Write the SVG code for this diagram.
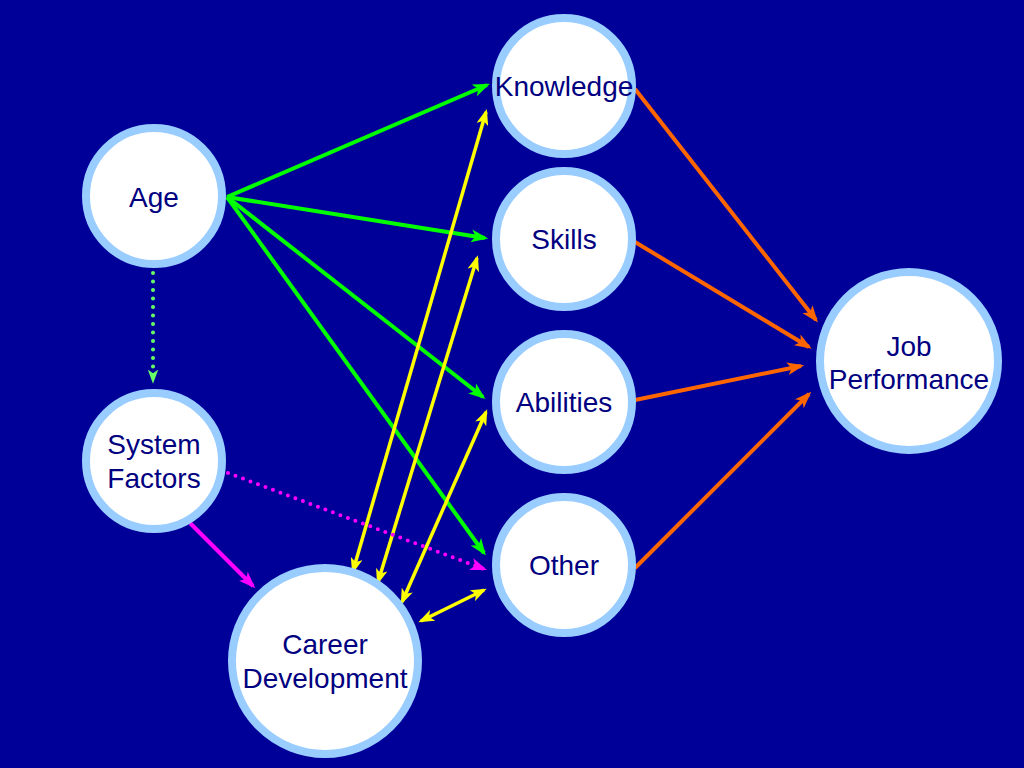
<svg xmlns="http://www.w3.org/2000/svg" width="1024" height="768" viewBox="0 0 1024 768">
<style>
.node circle{fill:#ffffff;stroke:#99ccff;stroke-width:8}
.node text{font-family:"Liberation Sans",Arial,sans-serif;font-size:28px;fill:#000080;text-anchor:middle}
.g{stroke:#00ff00;stroke-width:4;fill:none}
.y{stroke:#ffff00;stroke-width:3.5;fill:none}
.o{stroke:#ff6600;stroke-width:4;fill:none}
.m{stroke:#ff00ff;stroke-width:4;fill:none}
.gd{stroke:#66ff66;stroke-width:4;fill:none;stroke-dasharray:0 8.5;stroke-linecap:round}
.md{stroke:#ff00ff;stroke-width:4;fill:none;stroke-dasharray:0 8;stroke-linecap:round}
</style>
<defs>
<marker id="ag" viewBox="0 0 16 12" refX="13" refY="6" markerWidth="17" markerHeight="13" markerUnits="userSpaceOnUse" orient="auto"><path d="M0,0 L16,6 L0,12 L4,6 Z" fill="#00ff00"/></marker>
<marker id="agd" viewBox="0 0 16 12" refX="13" refY="6" markerWidth="14" markerHeight="11" markerUnits="userSpaceOnUse" orient="auto"><path d="M0,0 L16,6 L0,12 L4,6 Z" fill="#66ff66"/></marker>
<marker id="ay" viewBox="0 0 16 12" refX="13" refY="6" markerWidth="16" markerHeight="12" markerUnits="userSpaceOnUse" orient="auto-start-reverse"><path d="M0,0 L16,6 L0,12 L4,6 Z" fill="#ffff00"/></marker>
<marker id="ao" viewBox="0 0 16 12" refX="13" refY="6" markerWidth="17" markerHeight="13" markerUnits="userSpaceOnUse" orient="auto"><path d="M0,0 L16,6 L0,12 L4,6 Z" fill="#ff6600"/></marker>
<marker id="am" viewBox="0 0 16 12" refX="13" refY="6" markerWidth="17" markerHeight="13" markerUnits="userSpaceOnUse" orient="auto"><path d="M0,0 L16,6 L0,12 L4,6 Z" fill="#ff00ff"/></marker>
</defs>
<rect width="1024" height="768" fill="#000099"/>
<g id="connectors">
<line class="g" x1="227" y1="197" x2="487" y2="85" marker-end="url(#ag)"/>
<line class="g" x1="227" y1="197" x2="485" y2="238" marker-end="url(#ag)"/>
<line class="g" x1="227" y1="197" x2="483" y2="397" marker-end="url(#ag)"/>
<line class="g" x1="227" y1="197" x2="484" y2="553" marker-end="url(#ag)"/>
<line class="gd" x1="153" y1="273" x2="153" y2="381" marker-end="url(#agd)"/>
<line class="y" x1="353" y1="571" x2="486" y2="112" marker-start="url(#ay)" marker-end="url(#ay)"/>
<line class="y" x1="378" y1="582" x2="477" y2="258" marker-start="url(#ay)" marker-end="url(#ay)"/>
<line class="y" x1="402" y1="602" x2="486" y2="412" marker-start="url(#ay)" marker-end="url(#ay)"/>
<line class="y" x1="421" y1="621" x2="484" y2="590" marker-start="url(#ay)" marker-end="url(#ay)"/>
<line class="m" x1="190" y1="523" x2="253" y2="586" marker-end="url(#am)"/>
<line class="md" x1="228" y1="473" x2="484" y2="569" marker-end="url(#am)"/>
<line class="o" x1="635" y1="89" x2="816" y2="320" marker-end="url(#ao)"/>
<line class="o" x1="635" y1="242" x2="809" y2="347" marker-end="url(#ao)"/>
<line class="o" x1="635" y1="400" x2="801" y2="366" marker-end="url(#ao)"/>
<line class="o" x1="635" y1="568" x2="809" y2="394" marker-end="url(#ao)"/>
</g>
<g id="age" class="node"><circle cx="154" cy="196" r="68"/><text x="154" y="207">Age</text></g>
<g id="system-factors" class="node"><circle cx="154" cy="461" r="68"/><text x="154" y="454">System</text><text x="154" y="488">Factors</text></g>
<g id="career-development" class="node"><circle cx="325" cy="661" r="93"/><text x="325" y="654">Career</text><text x="325" y="688">Development</text></g>
<g id="knowledge" class="node"><circle cx="564" cy="86" r="68"/><text x="564" y="96">Knowledge</text></g>
<g id="skills" class="node"><circle cx="564" cy="239" r="68"/><text x="564" y="249">Skills</text></g>
<g id="abilities" class="node"><circle cx="564" cy="402" r="68"/><text x="564" y="412">Abilities</text></g>
<g id="other" class="node"><circle cx="564" cy="565" r="68"/><text x="564" y="575">Other</text></g>
<g id="job-performance" class="node"><circle cx="909" cy="361" r="89"/><text x="909" y="356">Job</text><text x="909" y="389">Performance</text></g>
</svg>
